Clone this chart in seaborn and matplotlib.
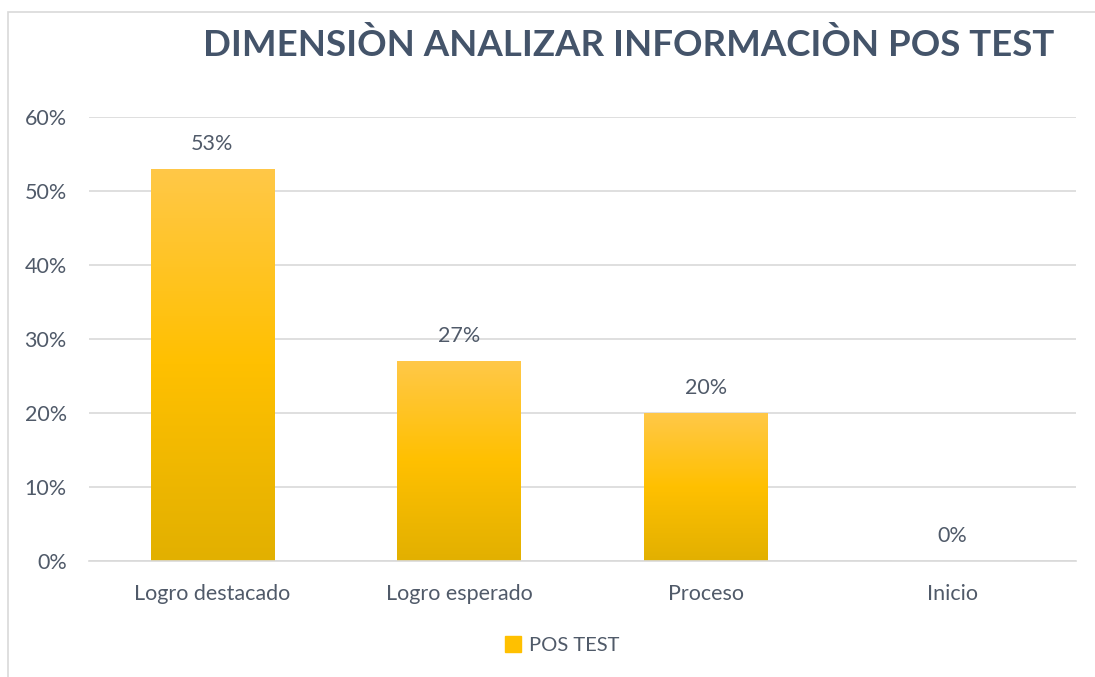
import matplotlib
matplotlib.use('Agg')
import matplotlib.pyplot as plt
import matplotlib.patches as mpatches
from matplotlib.colors import LinearSegmentedColormap
import seaborn as sns
import numpy as np
import pandas as pd

categories = ['Logro destacado', 'Logro esperado', 'Proceso', 'Inicio']
pos_test = [53, 27, 20, 0]
yticks = [0, 10, 20, 30, 40, 50, 60]
title = 'DIMENSIÒN ANALIZAR INFORMACIÒN POS TEST'
series_name = 'POS TEST'

sns.set_theme(style='white')
plt.rcParams['font.family'] = ['Lato', 'DejaVu Sans']

df = pd.DataFrame({'cat': categories, 'val': pos_test})
text_col = '#505A69'

fig = plt.figure(figsize=(10.95, 6.77), dpi=100)
ax = fig.add_axes([89 / 1095, 1 - 561 / 677, (1076 - 89) / 1095, (561 - 117) / 677])

sns.barplot(data=df, x='cat', y='val', color='#FFC000', width=0.5, ax=ax, zorder=2)

# vertical gradient on each bar
cmap = LinearSegmentedColormap.from_list('gold', ['#E2B000', '#FFC000', '#FFC848'])
grad = np.linspace(0, 1, 256).reshape(-1, 1)
for p in ax.patches:
    x0, y0 = p.get_x(), p.get_y()
    w, h = p.get_width(), p.get_height()
    if h <= 0:
        continue
    im = ax.imshow(grad, cmap=cmap, origin='lower', aspect='auto',
                   extent=[x0, x0 + w, y0, y0 + h], zorder=2)
    im.set_clip_path(p)
    p.set_facecolor('none')
    p.set_edgecolor('none')

for i, v in enumerate(pos_test):
    ax.text(i, v + 2.0, f'{v}%', ha='center', va='bottom', fontsize=15.5, color=text_col)

ax.set_xlim(-0.5, len(categories) - 0.5)
ax.set_ylim(0, 60)
ax.set_yticks(yticks)
ax.set_yticklabels([f'{t}%' for t in yticks])
ax.grid(axis='y', color='#D9D9D9', linewidth=1.2, zorder=0)
ax.set_axisbelow(True)
for s in ['top', 'right', 'left']:
    ax.spines[s].set_visible(False)
ax.spines['bottom'].set_color('#D9D9D9')
ax.spines['bottom'].set_linewidth(1.2)
ax.tick_params(axis='both', length=0, labelsize=15.5, colors=text_col)
ax.tick_params(axis='x', pad=16.5)
ax.tick_params(axis='y', pad=16)
ax.set_xlabel('')
ax.set_ylabel('')

fig.text(629 / 1095, 1 - 45 / 677, title, ha='center', va='center',
         fontsize=26.4, fontweight='bold', color='#44546A')

handle = mpatches.Patch(color='#FFC000', label=series_name)
fig.legend(handles=[handle], loc='center', bbox_to_anchor=(562 / 1095, 1 - 645 / 677),
           frameon=False, fontsize=14.5, labelcolor=text_col,
           handlelength=0.8, handleheight=0.8, handletextpad=0.4)

# chart area border (cut off at right/bottom like the reference)
fig.patches.append(mpatches.Rectangle((8 / 1095, -0.1), 1.2, 1.1 - 12 / 677,
                                      transform=fig.transFigure, fill=False,
                                      edgecolor='#D9D9D9', linewidth=1.2))

plt.savefig('out.png', dpi=100)
